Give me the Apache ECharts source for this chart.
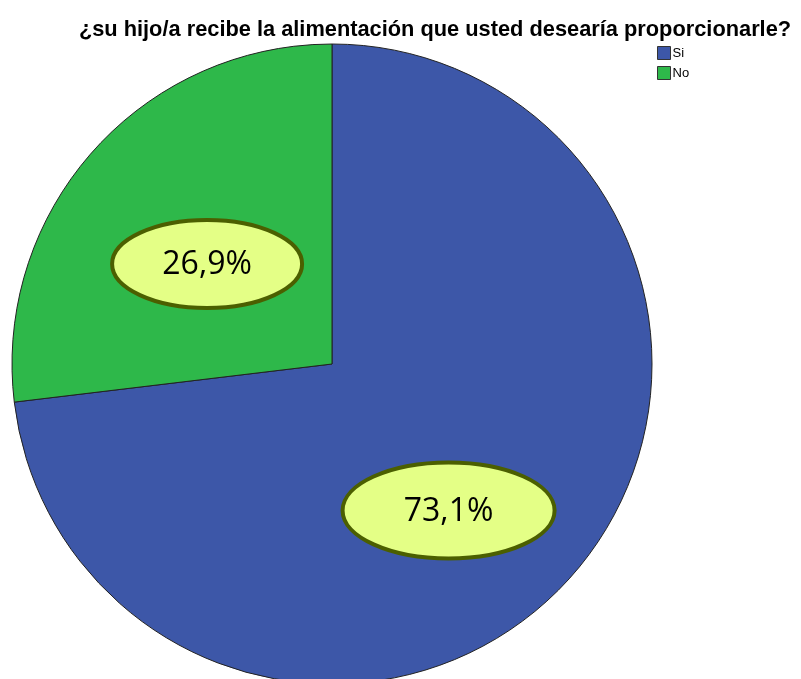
<!DOCTYPE html>
<html>
<head>
<meta charset="utf-8">
<script src="https://cdn.jsdelivr.net/npm/echarts@6/dist/echarts.min.js"></script>
<style>
  html, body { margin: 0; padding: 0; background: #fff; }
  #chart { width: 801px; height: 679px; }
</style>
</head>
<body>
<div id="chart"></div>
<script>
const categories = ['Si', 'No'];
const values = [73.1, 26.9];
const colors = ['#3d57a8', '#2eb84a'];
const labelTexts = ['73,1%', '26,9%'];
// where each label sits along its slice: fraction of radius, extra angle (deg)
const labelPos = [[0.585, 9.9], [0.5, -2.9]];
const labelSize = [[212, 96], [190, 88]];

const cx = 332, cy = 364, R = 320;

const chart = echarts.init(document.getElementById('chart'));

// label centres from the slice angles (clockwise from 12 o'clock)
const total = values.reduce((a, b) => a + b, 0);
let acc = 0;
const centres = values.map((v, i) => {
  const mid = (acc + v / 2) / total * 360 + labelPos[i][1];
  acc += v;
  const a = mid * Math.PI / 180;
  return [cx + labelPos[i][0] * R * Math.sin(a), cy - labelPos[i][0] * R * Math.cos(a)];
});

const ellipses = [];
centres.forEach((c, i) => {
  ellipses.push({
    type: 'ellipse',
    shape: { cx: c[0], cy: c[1], rx: labelSize[i][0] / 2, ry: labelSize[i][1] / 2 },
    style: { fill: '#e4ff86', stroke: '#4b5f00', lineWidth: 4 },
    z: 10
  });
  ellipses.push({
    type: 'text',
    x: c[0],
    y: c[1] + 1,
    style: {
      text: labelTexts[i],
      fill: '#000',
      font: '32px "Open Sans", sans-serif',
      align: 'center',
      verticalAlign: 'middle'
    },
    z: 11
  });
});

chart.setOption({
  animation: false,
  title: {
    text: '¿su hijo/a recibe la alimentación que usted desearía proporcionarle?',
    left: 430,
    textAlign: 'center',
    top: 14,
    textStyle: {
      fontFamily: 'Liberation Sans',
      fontWeight: 'bold',
      fontSize: 21.8,
      color: '#000'
    }
  },
  legend: {
    orient: 'vertical',
    left: 652,
    top: 41,
    itemWidth: 13,
    itemHeight: 13,
    itemGap: 6,
    icon: 'rect',
    data: categories,
    itemStyle: { borderColor: '#333', borderWidth: 1 },
    textStyle: { fontFamily: 'Liberation Sans', fontSize: 13, color: '#000', padding: [0, 0, 0, -3] }
  },
  graphic: ellipses,
  series: [
    {
      type: 'pie',
      center: [cx, cy],
      radius: R,
      startAngle: 90,
      clockwise: true,
      silent: true,
      label: { show: false },
      labelLine: { show: false },
      itemStyle: { borderColor: '#222', borderWidth: 1 },
      data: categories.map((name, i) => ({
        name: name,
        value: values[i],
        itemStyle: { color: colors[i] }
      }))
    }
  ]
});
</script>
</body>
</html>
